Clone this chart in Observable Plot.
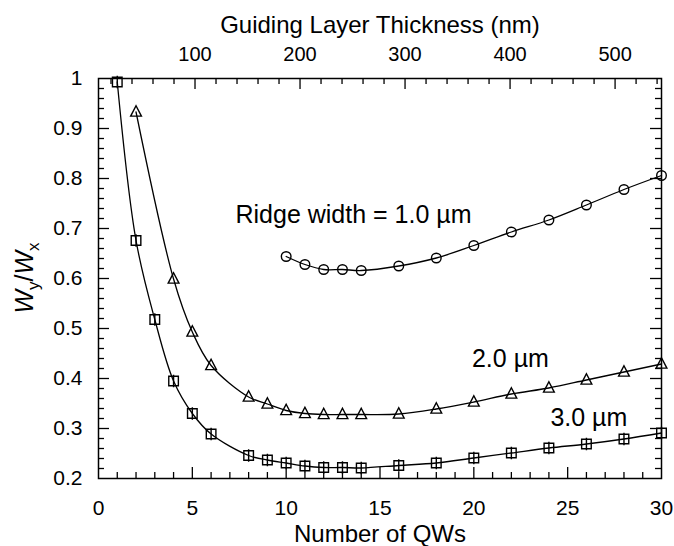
<!DOCTYPE html>
<html><head><meta charset="utf-8">
<script src="https://cdn.jsdelivr.net/npm/d3@7"></script>
<script src="https://cdn.jsdelivr.net/npm/@observablehq/plot@0.6"></script>
<style>body{margin:0;background:#fff}</style>
</head><body><div id="chart"></div>
<script>
// ---- data ----
const qw3 = [1,2,3,4,5,6,8,9,10,11,12,13,14,16,18,20,22,24,26,28,30];
const ratio3 = [0.993,0.676,0.518,0.395,0.330,0.289,0.246,0.237,0.231,0.225,0.222,0.222,0.221,0.226,0.231,0.241,0.251,0.261,0.269,0.279,0.291];
const qw2 = [2,4,5,6,8,9,10,11,12,13,14,16,18,20,22,24,26,28,30];
const ratio2 = [0.933,0.599,0.493,0.426,0.363,0.349,0.336,0.330,0.328,0.328,0.328,0.329,0.339,0.353,0.369,0.381,0.397,0.413,0.429];
const qw1 = [10,11,12,13,14,16,18,20,22,24,26,28,30];
const ratio1 = [0.644,0.628,0.618,0.618,0.616,0.625,0.641,0.666,0.693,0.717,0.747,0.778,0.806];
const seriesLabels = ["Ridge width = 1.0 \u00b5m", "2.0 \u00b5m", "3.0 \u00b5m"];
const xTickLabels = [0,5,10,15,20,25,30];
const yTickLabels = [0.2,0.3,0.4,0.5,0.6,0.7,0.8,0.9,1];
const topTickLabels = [100,200,300,400,500];
// guiding layer thickness (nm) = nmOffset + nmPerQW * number of QWs
const nmOffset = 8.1, nmPerQW = 17.87;

const s1 = qw1.map((q,i)=>({qw:q, ratio:ratio1[i]}));
const s2 = qw2.map((q,i)=>({qw:q, ratio:ratio2[i]}));
const s3 = qw3.map((q,i)=>({qw:q, ratio:ratio3[i]}));
const nmToQW = t => (t - nmOffset) / nmPerQW;

const W = 674, H = 546;
const mL = 98, mR = 13, mT = 78, mB = 68;
const pw = W - mL - mR, ph = H - mT - mB;
const font = "'Liberation Sans', Arial, Helvetica, sans-serif";

const squareBar = {draw(ctx, size){ const s = Math.sqrt(size/Math.PI);
  ctx.moveTo(-s,-s); ctx.lineTo(s,-s); ctx.lineTo(s,s); ctx.lineTo(-s,s); ctx.closePath();
  ctx.moveTo(0,-s-1.5); ctx.lineTo(0,s+1.5); }};
const tri = {draw(ctx, size){ const r = Math.sqrt(size/Math.PI);
  ctx.moveTo(0,-1.3*r); ctx.lineTo(1.12*r,0.85*r); ctx.lineTo(-1.12*r,0.85*r); ctx.closePath(); }};

const minorX = d3.range(1,30).filter(d=>d%5);
const majorX = d3.range(5,30,5);
const minorY = d3.range(11,50).map(d=>d/50).filter(d=>Math.round(d*50)%5);
const majorY = d3.range(3,10).map(d=>d/10);
const minorNm = d3.range(20,545,20).filter(d=>d%100);
const majorNm = topTickLabels;
const tw = 1.3, minorLen = 6, majorLen = 11;

const chart = Plot.plot({
  width: W, height: H,
  marginLeft: mL, marginRight: mR, marginTop: mT, marginBottom: mB,
  style: {fontFamily: font, fontSize: "21px", background: "white", color: "black"},
  x: {domain: [0,30], axis: null},
  y: {domain: [0.2,1], axis: null},
  marks: [
    // bottom ticks
    Plot.ruleX(minorX, {x: d=>d, stroke:"black", strokeWidth: tw, insetTop: ph - minorLen}),
    Plot.ruleX(majorX, {x: d=>d, stroke:"black", strokeWidth: tw, insetTop: ph - majorLen}),
    // top (nm) ticks
    Plot.ruleX(minorNm, {x: nmToQW, stroke:"black", strokeWidth: tw, insetBottom: ph - minorLen}),
    Plot.ruleX(majorNm, {x: nmToQW, stroke:"black", strokeWidth: tw, insetBottom: ph - majorLen}),
    // left ticks
    Plot.ruleY(minorY, {y: d=>d, stroke:"black", strokeWidth: tw, insetRight: pw - minorLen}),
    Plot.ruleY(majorY, {y: d=>d, stroke:"black", strokeWidth: tw, insetRight: pw - majorLen}),
    // right ticks
    Plot.ruleY(minorY, {y: d=>d, stroke:"black", strokeWidth: tw, insetLeft: pw - minorLen}),
    Plot.ruleY(majorY, {y: d=>d, stroke:"black", strokeWidth: tw, insetLeft: pw - majorLen}),
    Plot.frame({stroke:"black", strokeWidth: 1.5}),
    // tick labels
    Plot.text(xTickLabels, {x: d=>d, text: d=>String(d), frameAnchor:"bottom", lineAnchor:"middle", dy: 30, fontSize: 21}),
    Plot.text(yTickLabels, {y: d=>d, text: d=>String(d), frameAnchor:"left", textAnchor:"end", dx: -16, fontSize: 21}),
    Plot.text(topTickLabels, {x: nmToQW, text: d=>String(d), frameAnchor:"top", lineAnchor:"middle", dy: -24, fontSize: 20}),
    // axis titles
    Plot.text(["Number of QWs"], {text: d=>d, frameAnchor:"bottom", lineAnchor:"bottom", dy: 63, fontSize: 24}),
    Plot.text(["Guiding Layer Thickness (nm)"], {text: d=>d, frameAnchor:"top", lineAnchor:"bottom", dy: -46, fontSize: 24}),
    // curves
    Plot.line(s1, {x:"qw", y:"ratio", curve:"catmull-rom", stroke:"black", strokeWidth:1.3}),
    Plot.line(s2, {x:"qw", y:"ratio", curve:"catmull-rom", stroke:"black", strokeWidth:1.3}),
    Plot.line(s3, {x:"qw", y:"ratio", curve:"catmull-rom", stroke:"black", strokeWidth:1.3}),
    Plot.dot(s1, {x:"qw", y:"ratio", r:4.8, symbol:"circle", stroke:"black", fill:"none", strokeWidth:1.4}),
    Plot.dot(s2, {x:"qw", y:"ratio", r:4.8, symbol:tri, stroke:"black", fill:"none", strokeWidth:1.4}),
    Plot.dot(s3, {x:"qw", y:"ratio", r:4.8, symbol:squareBar, stroke:"black", fill:"none", strokeWidth:1.4}),
    // series annotations
    Plot.text([seriesLabels[0]], {x: 7.3, y: 0.711, text: d=>d, textAnchor:"start", lineAnchor:"bottom", fontSize: 25}),
    Plot.text([seriesLabels[1]], {x: 19.9, y: 0.424, text: d=>d, textAnchor:"start", lineAnchor:"bottom", fontSize: 25}),
    Plot.text([seriesLabels[2]], {x: 24.08, y: 0.306, text: d=>d, textAnchor:"start", lineAnchor:"bottom", fontSize: 25})
  ]
});

// y-axis title with italic W and subscripts
const svg = d3.select(chart);
const t = svg.append("text")
  .attr("transform", `translate(33,${mT + ph/2}) rotate(-90)`)
  .attr("text-anchor", "middle")
  .attr("font-family", font)
  .attr("font-size", 25)
  .attr("fill", "black");
t.append("tspan").attr("font-style","italic").text("W");
t.append("tspan").attr("font-size",17).attr("dy",6).text("y");
t.append("tspan").attr("dy",-6).text("/");
t.append("tspan").attr("font-style","italic").text("W");
t.append("tspan").attr("font-size",17).attr("dy",6).text("x");

document.getElementById("chart").appendChild(chart);
</script>
</body></html>
